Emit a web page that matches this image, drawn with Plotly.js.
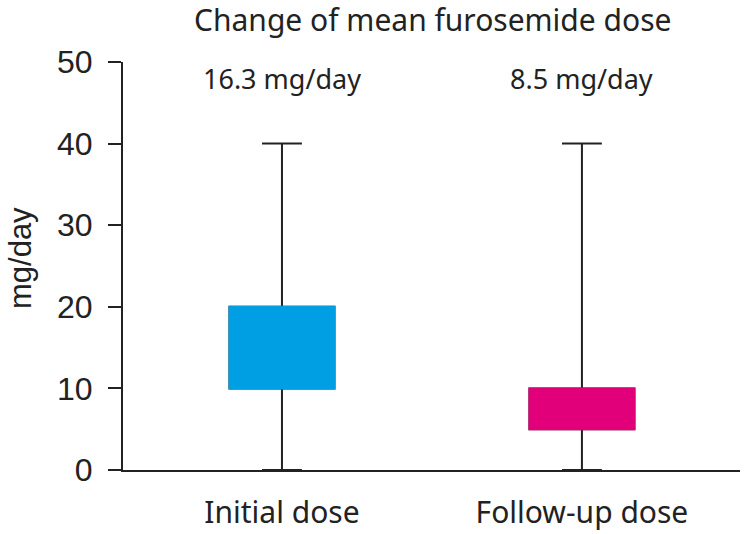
<!DOCTYPE html>
<html>
<head>
<meta charset="utf-8">
<script src="https://cdn.plot.ly/plotly-3.0.1.min.js"></script>
<style>html,body{margin:0;padding:0;background:#fff}#chart{width:747px;height:534px}</style>
</head>
<body>
<div id="chart"></div>
<script>
const categories = ["Initial dose", "Follow-up dose"];
const minValues = [0, 0];
const q1Values = [10, 5];
const q3Values = [20, 10];
const maxValues = [40, 40];
const meanLabels = ["16.3 mg/day", "8.5 mg/day"];
const colors = ["#009FE3", "#E2007A"];
const yTicks = [0, 10, 20, 30, 40, 50];

const traces = [];
// whisker traces (dark)
categories.forEach((c, i) => {
  traces.push({
    type: "box", x: [c], q1: [q1Values[i]], median: [q1Values[i]], q3: [q3Values[i]],
    lowerfence: [minValues[i]], upperfence: [maxValues[i]],
    line: {color: "#222222", width: 2}, fillcolor: "#222222",
    width: 0.35, whiskerwidth: 0.38, boxpoints: false, hoverinfo: "none", showlegend: false
  });
});
// coloured boxes on top
categories.forEach((c, i) => {
  traces.push({
    type: "box", x: [c], q1: [q1Values[i]], median: [q1Values[i]], q3: [q3Values[i]],
    lowerfence: [q1Values[i]], upperfence: [q3Values[i]],
    line: {color: colors[i], width: 2}, fillcolor: colors[i],
    width: 0.35, whiskerwidth: 0, boxpoints: false, hoverinfo: "none", showlegend: false
  });
});

const annotations = categories.map((c, i) => ({
  x: c, xref: "x", y: 0.96, yref: "paper", text: meanLabels[i], showarrow: false,
  xanchor: "center", yanchor: "middle",
  font: {family: "Noto Sans, sans-serif", size: 27, color: "#222"}
}));
annotations.push({
  x: -0.165, xref: "paper", y: 0.52, yref: "paper", text: "mg/day", showarrow: false,
  textangle: -90, xanchor: "center", yanchor: "middle",
  font: {family: "Liberation Sans, Arial, sans-serif", size: 31, color: "#222"}
});

const layout = {
  width: 747, height: 534,
  margin: {l: 123, r: 7, t: 62, b: 64},
  paper_bgcolor: "#fff", plot_bgcolor: "#fff",
  boxmode: "overlay",
  showlegend: false,
  title: {text: "Change of mean furosemide dose", x: 0.502, xref: "paper", xanchor: "center",
          y: 0.962, yref: "container", yanchor: "middle",
          font: {family: "Noto Sans, sans-serif", size: 30, color: "#222"}},
  xaxis: {
    type: "category", categoryorder: "array", categoryarray: categories,
    range: [-0.53, 1.527], showline: true, linecolor: "#222", linewidth: 2,
    showgrid: false, zeroline: false, ticks: "outside", ticklen: 15, tickcolor: "rgba(0,0,0,0)",
    tickfont: {family: "Noto Sans, sans-serif", size: 30, color: "#222"}, fixedrange: true
  },
  yaxis: {
    range: [0, 50], tickvals: yTicks, ticktext: yTicks.map(String),
    showline: true, linecolor: "#222", linewidth: 2, showgrid: false, zeroline: false,
    ticks: "outside", ticklen: 13, tickwidth: 2, tickcolor: "#222", ticklabelstandoff: 9,
    tickfont: {family: "Liberation Sans, Arial, sans-serif", size: 32, color: "#222"},
    fixedrange: true
  },
  annotations: annotations
};

Plotly.newPlot("chart", traces, layout, {displayModeBar: false, staticPlot: true});
</script>
</body>
</html>
